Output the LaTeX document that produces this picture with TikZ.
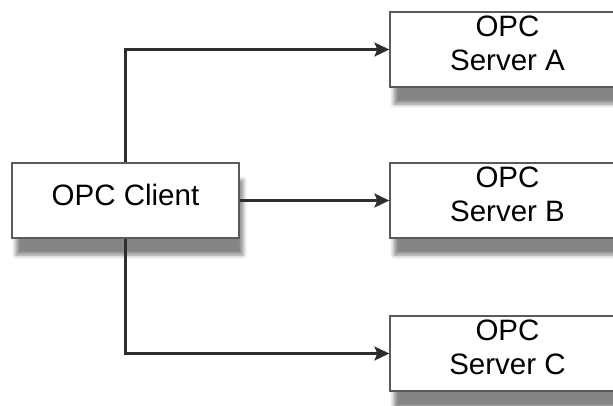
\documentclass[tikz,border=0pt]{standalone}
\usepackage{fontspec}
\setmainfont{Liberation Sans}
\usetikzlibrary{arrows.meta,shadows.blur}
\definecolor{linecol}{HTML}{2E2E2E}
\definecolor{boxcol}{HTML}{5A5A5A}
\tikzset{
  box/.style={draw=boxcol, line width=1.3pt, fill=white, rectangle, align=center,
    font=\fontsize{29.5}{34}\selectfont, text depth=12pt,
    blur shadow={shadow xshift=4pt, shadow yshift=-17pt, shadow blur radius=4pt, shadow opacity=48}},
  conn/.style={draw=linecol, line width=2.4pt, -{Stealth[length=15pt,width=14pt,inset=3pt]}},
}
\begin{document}
\begin{tikzpicture}[x=1pt,y=-1pt]
\useasboundingbox (0,0) rectangle (613,405);
\node[box, minimum width=227pt, minimum height=75pt] (client) at (125.5,200.5) {OPC Client};
\node[box, minimum width=235pt, minimum height=75pt] (sa) at (507.5,49.5) {OPC\\Server A};
\node[box, minimum width=235pt, minimum height=75pt] (sb) at (507.5,200.5) {OPC\\Server B};
\node[box, minimum width=235pt, minimum height=75pt] (sc) at (507.5,353.5) {OPC\\Server C};
\draw[conn] (client.north) |- (sa.west);
\draw[conn] (client.east) -- (sb.west);
\draw[conn] (client.south) |- (sc.west);
\end{tikzpicture}
\end{document}
